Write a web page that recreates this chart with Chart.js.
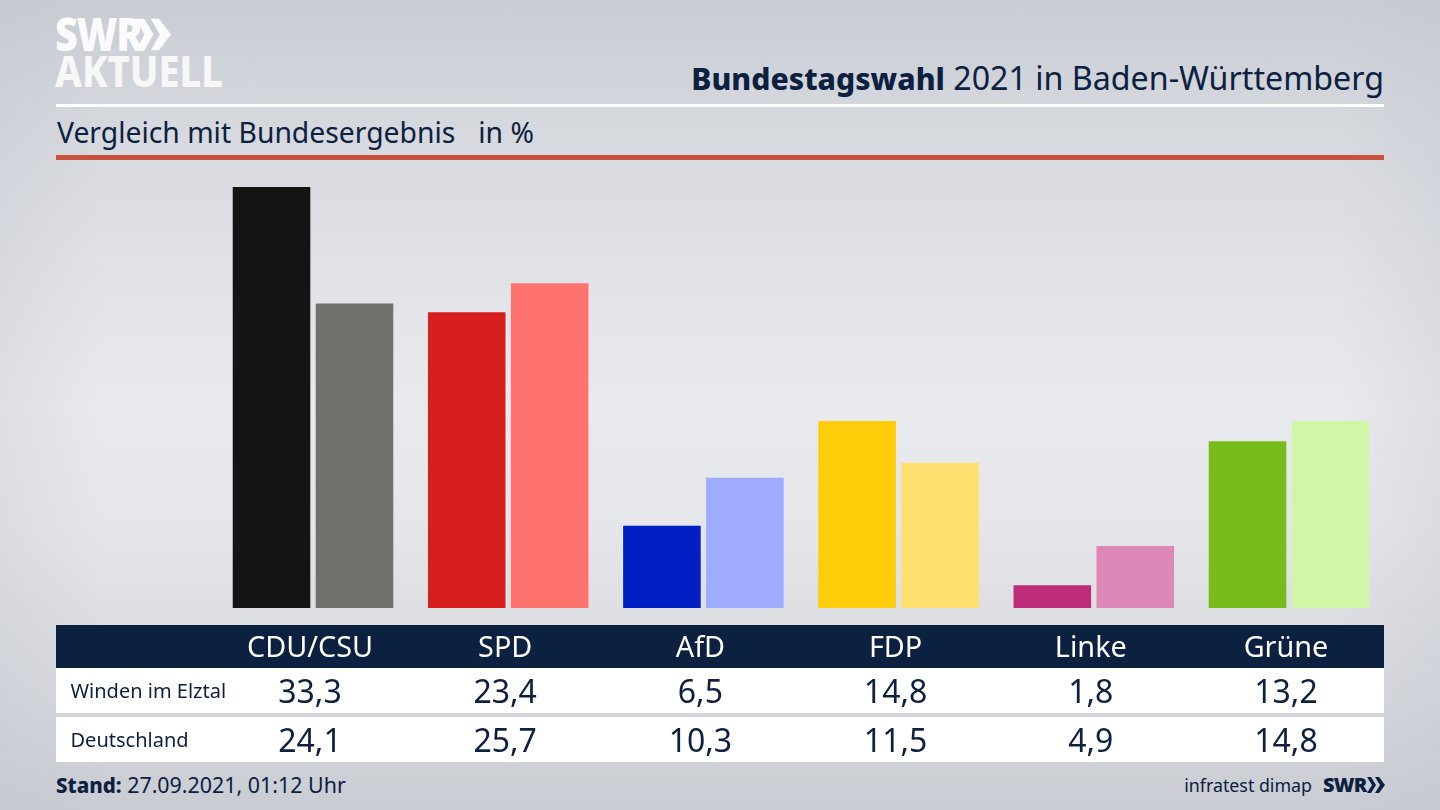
<!DOCTYPE html>
<html lang="de"><head><meta charset="utf-8"><title>Bundestagswahl 2021 in Baden-Württemberg</title>
<script src="https://cdn.jsdelivr.net/npm/chart.js@4/dist/chart.umd.min.js"></script>
<style>
html,body{margin:0;padding:0}
body{width:1440px;height:810px;overflow:hidden;position:relative;font-family:"Noto Sans",sans-serif;color:#0c2040;
background:linear-gradient(90deg,rgba(190,195,205,.28) 0,rgba(190,195,205,0) 7%,rgba(190,195,205,0) 93%,rgba(190,195,205,.28) 100%),linear-gradient(180deg,#c9ccd3 0%,#d5d8dd 15%,#e2e3e7 35%,#e9eaed 50%,#e5e6e9 65%,#d6d8dd 85%,#c9ccd2 100%)}
.a{position:absolute;white-space:nowrap}
.band{position:absolute;left:56px;width:1328px}
canvas{position:absolute;left:0;top:0;z-index:2}
.cell{position:absolute;transform:translateX(-50%);font-size:32px;line-height:45px;z-index:3}
.rowlabel{position:absolute;left:70.5px;font-size:20px;line-height:45px;z-index:3}
</style></head><body>
<div class="a" style="left:55px;top:9px;font-size:46px;line-height:48px;font-weight:900;color:#fbfbfb;letter-spacing:-1.5px;transform-origin:left top;transform:scaleX(.86)">SWR</div>
<svg class="a" style="left:136px;top:18px" width="35" height="33" viewBox="0 0 38 34"><path fill="#fbfbfb" d="M0 0h9l10 17L9 34H0l9-17zM16 0h9l13 17-13 17h-9l10-17z"/></svg>
<div class="a" style="left:55px;top:46px;font-size:42px;line-height:50px;font-weight:800;color:#f7f7f7;transform-origin:left top;transform:scaleX(.905)">AKTUELL</div>
<div class="a" style="right:56px;top:57px;font-size:32.2px;line-height:42px"><b style="font-weight:800;font-size:30.2px">Bundestagswahl</b> 2021 in Baden-Württemberg</div>
<div class="band" style="top:104px;height:3px;background:#fff"></div>
<div class="a" style="left:57px;top:111px;font-size:28.3px;line-height:42px">Vergleich mit Bundesergebnis<span style="margin-left:23px">in %</span></div>
<div class="band" style="top:155px;height:5px;background:#c9503c"></div>
<div class="band" style="top:625px;height:43px;background:#0c2040"></div>
<div class="band" style="top:668px;height:45px;background:#fff"></div>
<div class="band" style="top:717px;height:45px;background:#fff"></div>
<div class="a" style="left:56px;top:770px;font-size:21.4px;line-height:30px"><b style="font-weight:800;font-size:20.5px">Stand:</b> 27.09.2021, 01:12 Uhr</div>
<div class="a" style="right:128px;top:770px;font-size:17.8px;line-height:30px">infratest dimap</div>
<div class="a" style="left:1323px;top:770px;font-size:20px;line-height:30px;font-weight:900;letter-spacing:-.8px">SWR</div>
<svg class="a" style="left:1367px;top:777px" width="18" height="16" viewBox="0 0 18 16"><path fill="#0c2040" d="M0 0h4l5 8-5 8H0l5-8zM8 0h4l6 8-6 8H8l5-8z"/></svg>
<canvas id="c" width="1440" height="810"></canvas>
<div id="rows"></div>
<script>
const parties = ["CDU/CSU","SPD","AfD","FDP","Linke","Grüne"];
const windenLabel = "Winden im Elztal";
const deutschlandLabel = "Deutschland";
const winden = [33.3,23.4,6.5,14.8,1.8,13.2];
const deutschland = [24.1,25.7,10.3,11.5,4.9,14.8];
const windenColors = ["#141414","#d81f1f","#0120c4","#ffcc0a","#bd2c78","#78bc1c"];
const deutschlandColors = ["#72706d","#ff736e","#9fabff","#fde070","#de88b8","#d2f6a8"];

const chart = new Chart(document.getElementById("c"),{
  type:"bar",
  data:{labels:parties,datasets:[
    {label:windenLabel,data:winden,backgroundColor:windenColors,categoryPercentage:.85,barPercentage:.935,borderWidth:0},
    {label:deutschlandLabel,data:deutschland,backgroundColor:deutschlandColors,categoryPercentage:.85,barPercentage:.935,borderWidth:0}
  ]},
  options:{responsive:false,animation:false,devicePixelRatio:1,
    layout:{padding:{left:215.4,right:53.4,top:165.6,bottom:0}},
    plugins:{legend:{display:false},title:{display:false},tooltip:{enabled:false}},
    scales:{
      x:{grid:{display:false,drawTicks:false},border:{display:false},
        afterFit(s){s.height=202},
        ticks:{color:"#ffffff",padding:24,labelOffset:-3,maxRotation:0,autoSkip:false,font:{family:"Noto Sans",size:28.8}}},
      y:{display:false,min:0,max:35}
    }
  }
});
const fmt = v => v.toLocaleString("de-DE",{minimumFractionDigits:1,maximumFractionDigits:1});
const rows = document.getElementById("rows");
[[windenLabel,winden,668],[deutschlandLabel,deutschland,717]].forEach(([label,vals,top])=>{
  const l=document.createElement("div");l.className="rowlabel";l.style.top=top+"px";l.textContent=label;rows.appendChild(l);
  vals.forEach((v,i)=>{
    const d=document.createElement("div");d.className="cell";d.style.top=top+"px";
    d.style.left=(chart.scales.x.getPixelForTick(i)-3)+"px";d.textContent=fmt(v);rows.appendChild(d);
  });
});
</script></body></html>
